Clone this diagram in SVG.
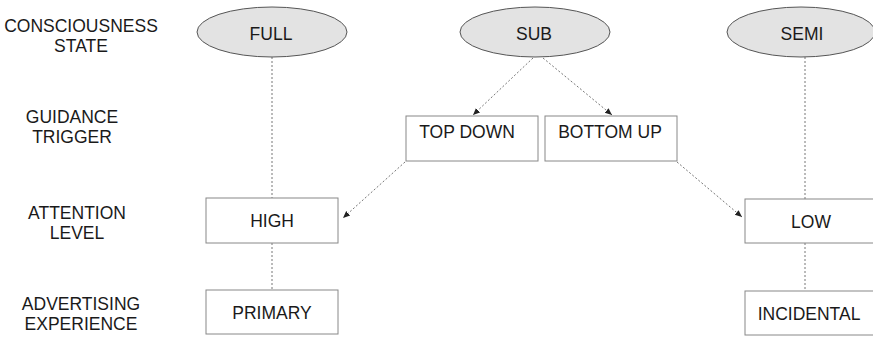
<svg xmlns="http://www.w3.org/2000/svg" width="873" height="337" viewBox="0 0 873 337">
<style>
text{font-family:"Liberation Sans",Arial,sans-serif;font-size:17.5px;fill:#1a1a1a;text-anchor:middle}
.ell{fill:#e3e3e3;stroke:#555;stroke-width:1}
.box{fill:#fff;stroke:#888;stroke-width:1}
.con{fill:none;stroke:#777;stroke-width:1;stroke-dasharray:2,2}
</style>
<defs>
<marker id="ah" markerWidth="8" markerHeight="8" refX="7" refY="4" orient="auto" markerUnits="userSpaceOnUse">
<path d="M0,1 L7,4 L0,7 Z" fill="#222"/>
</marker>
</defs>
<rect width="873" height="337" fill="#fff"/>
<g id="row-labels">
<text x="81" y="32">CONSCIOUSNESS</text><text x="81" y="52">STATE</text>
<text x="72" y="123">GUIDANCE</text><text x="72" y="143">TRIGGER</text>
<text x="77" y="219">ATTENTION</text><text x="77" y="239">LEVEL</text>
<text x="81" y="310">ADVERTISING</text><text x="81" y="330">EXPERIENCE</text>
</g>
<g id="connectors">
<line class="con" x1="272" y1="57" x2="272" y2="198"/>
<line class="con" x1="272" y1="243" x2="272" y2="290"/>
<line class="con" x1="805" y1="57" x2="805" y2="199"/>
<line class="con" x1="805" y1="243" x2="805" y2="291"/>
<line class="con" x1="533" y1="58" x2="473" y2="115" marker-end="url(#ah)"/>
<line class="con" x1="543" y1="58" x2="612" y2="115" marker-end="url(#ah)"/>
<line class="con" x1="405" y1="162" x2="343" y2="218" marker-end="url(#ah)"/>
<line class="con" x1="677" y1="162" x2="742" y2="217" marker-end="url(#ah)"/>
</g>
<g id="full"><ellipse class="ell" cx="272" cy="32" rx="75" ry="25"/><text x="271" y="40">FULL</text></g>
<g id="sub"><ellipse class="ell" cx="535" cy="32" rx="75" ry="25"/><text x="534" y="40">SUB</text></g>
<g id="semi"><ellipse class="ell" cx="801" cy="32" rx="74" ry="25"/><text x="802" y="40">SEMI</text></g>
<g id="top-down"><rect class="box" x="406" y="116" width="132" height="45"/><text x="467" y="138">TOP DOWN</text></g>
<g id="bottom-up"><rect class="box" x="545" y="116" width="132" height="45"/><text x="610" y="138">BOTTOM UP</text></g>
<g id="high"><rect class="box" x="206" y="198" width="132" height="45"/><text x="272" y="227">HIGH</text></g>
<g id="low"><rect class="box" x="745" y="199" width="132" height="44"/><text x="811" y="228">LOW</text></g>
<g id="primary"><rect class="box" x="206" y="290" width="132" height="44"/><text x="272" y="319">PRIMARY</text></g>
<g id="incidental"><rect class="box" x="745" y="291" width="132" height="44"/><text x="809" y="320">INCIDENTAL</text></g>
</svg>
